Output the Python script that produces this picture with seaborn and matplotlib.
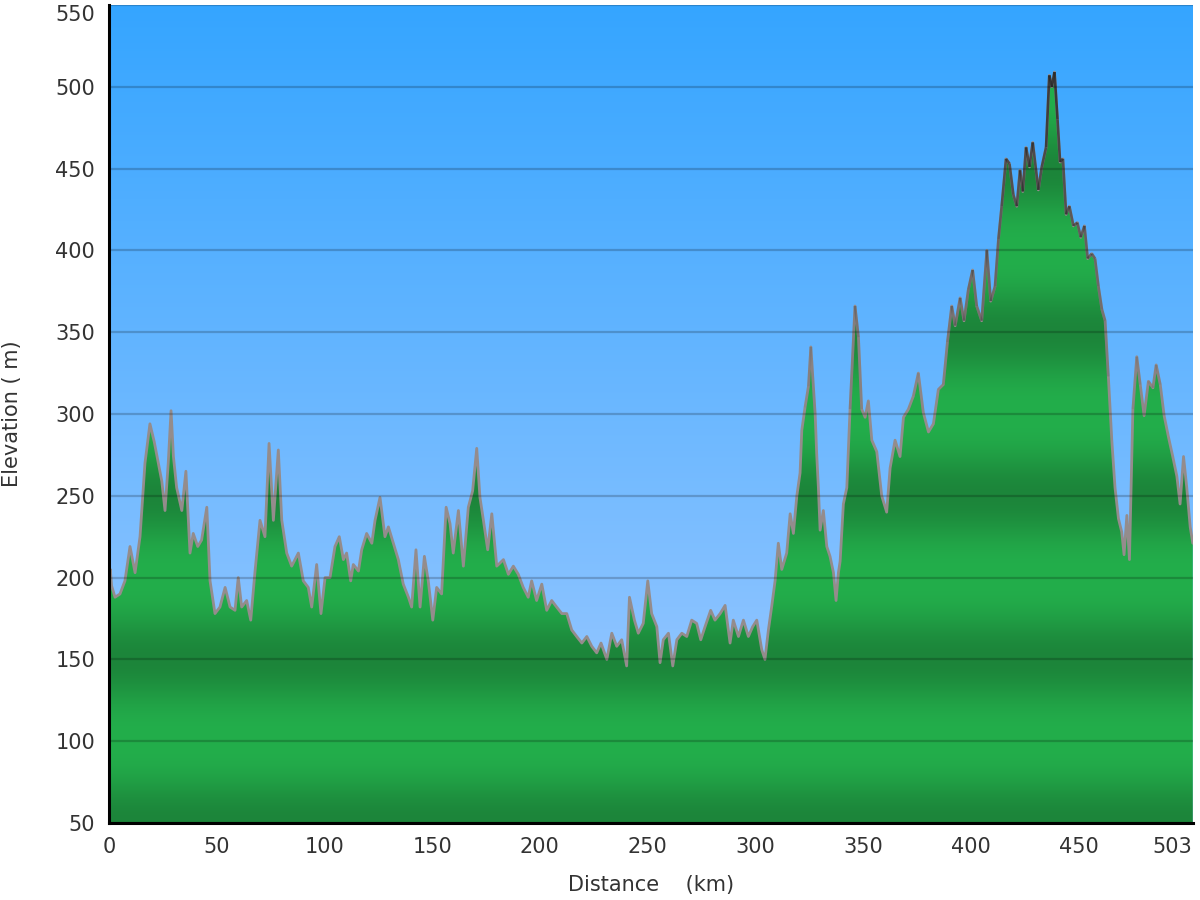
import numpy as np
import matplotlib
matplotlib.use("Agg")
import matplotlib.pyplot as plt
import seaborn as sns
from matplotlib.collections import LineCollection
from matplotlib.colors import to_rgb

# elevation profile (distance km, elevation m)
dist_km = [0.0, 0.6, 1.2, 2.8, 5.1, 7.4, 9.75, 12.1, 14.4, 16.7, 19.0, 21.0, 22.9, 24.5, 26.0,
           27.5, 28.8, 29.9, 31.4, 33.8, 35.7, 37.6, 39.1, 41.2, 43.0, 45.4, 46.9, 49.2, 51.5,
           53.9, 56.2, 58.5, 60.0, 61.6, 63.9, 65.8, 67.8, 70.1, 72.4, 74.3, 76.3, 78.6, 80.2,
           82.5, 84.8,
           87.9, 90.2, 92.5, 94.1, 96.4, 98.4, 100.3, 102.6, 104.9, 106.9, 108.8, 110.3, 112.2,
           113.4, 115.8, 117.3, 119.6, 122.0, 123.5, 125.8, 128.1, 129.7, 132.0, 134.3, 136.6,
           139.0, 140.5, 142.5, 144.4, 146.4, 148.2, 150.3, 152.1, 154.4, 156.5, 158.3, 159.8,
           162.2, 164.5, 166.8, 168.8, 170.7,
           172.2, 173.8, 175.8, 177.7, 180.0, 183.1, 185.4, 187.7, 190.0, 192.3, 194.6, 196.2,
           198.5, 200.9, 203.2, 205.5, 207.8, 210.2, 212.5, 214.8, 217.1, 219.5, 221.8, 224.1,
           226.4, 228.4, 231.1, 233.4, 235.7, 238.0, 240.3, 241.6, 243.9, 245.7, 248.0, 250.1,
           251.9, 254.3, 255.8,
           257.3, 259.7, 261.7, 263.6, 265.9, 268.2, 270.5, 272.8, 274.7, 276.7, 279.3, 281.3,
           283.7, 286.0, 288.3, 289.8, 292.2, 294.5, 296.8, 298.8, 300.7, 303.0, 304.5, 306.1,
           307.6, 309.2, 310.7, 312.3, 314.6, 316.2, 317.7, 319.3, 320.8, 321.6, 323.1, 324.7,
           325.8,
           327.8, 328.5, 329.3, 330.1, 331.6, 333.2, 334.7, 336.3, 337.5, 338.6, 339.4,
           340.9, 342.5, 344.0, 346.3, 347.9, 349.4, 351.0, 352.5, 354.1, 356.4, 358.7, 361.0,
           362.6, 364.9, 367.2, 368.8, 371.1, 373.4, 375.7, 378.0, 380.4, 382.7, 385.0, 387.3,
           389.2, 391.2, 392.8, 395.1, 396.9, 398.9, 400.9, 402.8, 405.1, 407.5, 409.3, 411.3,
           412.9, 414.4, 416.4, 418.0, 419.8, 421.4, 422.9, 424.2,
           425.7, 427.3, 428.8, 431.4, 433.0, 435.0, 436.5, 437.7, 438.9, 440.3, 441.5, 442.8,
           444.3, 445.8, 447.7, 449.5, 451.1, 452.8, 454.3, 456.2, 457.7, 459.3, 460.9, 462.4,
           463.9, 465.5, 467.0, 468.6, 470.1, 471.2, 472.5, 473.7, 475.3, 477.1, 478.7, 480.5,
           482.5, 484.6, 486.1, 488.0, 489.8, 491.8, 493.8, 495.7, 497.2, 498.8, 500.3, 501.9,
           503.1]

elev_m = [185, 205, 195, 188, 190, 198, 219, 203, 225, 270, 294, 283, 270, 259, 241,
          270, 302, 274, 255, 241, 265, 215, 227, 219, 223, 243, 198, 178, 182,
          194, 182, 180, 200, 182, 186, 174, 204, 235, 225, 282, 235, 278, 235,
          215, 207,
          215, 198, 194, 182, 208, 178, 200, 200, 219, 225, 211, 215, 198,
          208, 204, 217, 227, 221, 235, 249, 225, 231, 221, 211, 196,
          188, 182, 217, 182, 213, 198, 174, 194, 190, 243, 233, 215,
          241, 207, 243, 253, 279,
          249, 235, 217, 239, 207, 211, 202, 207, 202, 194, 188, 198,
          186, 196, 180, 186, 182, 178, 178, 168, 164, 160, 164, 158,
          154, 160, 150, 166, 158, 162, 146, 188, 174, 166, 172, 198,
          178, 170, 148,
          162, 166, 146, 162, 166, 164, 174, 172, 162, 170, 180, 174,
          178, 183, 160, 174, 164, 174, 164, 170, 174, 156, 150, 168,
          182, 198, 221, 205, 215, 239, 227, 250, 264, 290, 304, 317,
          341,
          300, 276, 255, 229, 241, 219, 213, 203, 186, 203, 210,
          245, 255, 303, 366, 347, 303, 298, 308, 284, 277, 250, 240,
          267, 284, 274, 298, 303, 311, 325, 301, 289, 294, 315, 318,
          344, 366, 354, 371, 357, 376, 388, 366, 357, 400, 369, 378,
          407, 427, 456, 453, 434, 427, 449, 436,
          463, 451, 466, 437, 451, 463, 507, 500, 509, 480, 454, 456,
          422, 427, 415, 417, 408, 415, 395, 398, 395, 378, 364, 357,
          323, 284, 255, 236, 228, 214, 238, 211, 303, 335, 318, 299,
          320, 316, 330, 318, 299, 286, 274, 262, 245, 274, 255, 231,
          221]

x_ticks = [0, 50, 100, 150, 200, 250, 300, 350, 400, 450, 503]
y_ticks = [50, 100, 150, 200, 250, 300, 350, 400, 450, 500, 550]

sns.set_style("white")
plt.rcParams['font.family'] = ['DejaVu Sans']

x = np.array(dist_km)
y = np.array(elev_m, dtype=float)
x_max = 503.2
y_min, y_max = 50, 550

fig = plt.figure(figsize=(12, 9), dpi=100)
ax = fig.add_axes([109 / 1200, 77 / 900, 1084 / 1200, 818 / 900])

# sky: vertical gradient
hh = np.linspace(y_max, y_min, 400)
top_c = np.array(to_rgb('#35a5ff'))
bot_c = np.array(to_rgb('#a3cbff'))
t = ((y_max - hh) / (y_max - y_min))[:, None]
sky = top_c * (1 - t) + bot_c * t
ax.imshow(sky[:, None, :], extent=[0, x_max, y_min, y_max], aspect='auto', zorder=0,
          interpolation='bilinear')

# ground: banded green gradient clipped to the profile
light = np.array(to_rgb('#23ae4b'))
dark = np.array(to_rgb('#1c853a'))
d = (0.5 * (1 + np.cos(2 * np.pi * (hh - 50) / 100))) ** 1.4
green = light * (1 - d[:, None]) + dark * d[:, None]
poly = ax.fill_between(x, y_min, y, facecolor='none', edgecolor='none', zorder=1)
im = ax.imshow(green[:, None, :], extent=[0, x_max, y_min, y_max], aspect='auto', zorder=1,
               interpolation='bilinear')
im.set_clip_path(poly.get_paths()[0], transform=ax.transData)

# profile edge: gray, darkening at high elevations
sns.lineplot(x=x, y=y, color='#948c8c', lw=2.0, ax=ax, zorder=2)
pts = np.column_stack([x, y]).reshape(-1, 1, 2)
segs = np.concatenate([pts[:-1], pts[1:]], axis=1)
mid = 0.5 * (y[:-1] + y[1:])
alpha = np.clip((mid - 300) / 230, 0, 0.85)
cols = np.zeros((len(mid), 4))
cols[:, :3] = to_rgb('#2a2a2a')
cols[:, 3] = alpha
ax.add_collection(LineCollection(segs, colors=cols, linewidths=1.9, zorder=2.1))

ax.set_xlim(0, x_max)
ax.set_ylim(y_min, y_max)
ax.set_xticks(x_ticks)
ax.set_yticks(y_ticks)
ax.set_xticklabels([str(v) for v in x_ticks])
ax.set_yticklabels([str(v) for v in y_ticks])
ax.grid(axis='y', color='black', alpha=0.2, lw=1.6)
ax.grid(axis='x', visible=False)
ax.set_axisbelow(False)

sns.despine(ax=ax)
for s in ['left', 'bottom']:
    ax.spines[s].set_color('black')
    ax.spines[s].set_linewidth(2.2)
    ax.spines[s].set_zorder(5)
ax.tick_params(axis='both', direction='out', length=6, width=2.2, color='black',
               labelsize=15, labelcolor='#333333', pad=4)

# keep edge labels inside the figure
ax.get_xticklabels()[-1].set_ha('right')
ax.get_yticklabels()[-1].set_va('top')

ax.set_xlabel('Distance    (km)', fontsize=15, color='#333333', va='center')
ax.set_ylabel('Elevation ( m)', fontsize=15, color='#333333', va='center')
ax.xaxis.set_label_coords(0.5, (823 - 885) / 818)
ax.yaxis.set_label_coords((12 - 109) / 1084, 0.5)

fig.savefig('out.png', dpi=100)
